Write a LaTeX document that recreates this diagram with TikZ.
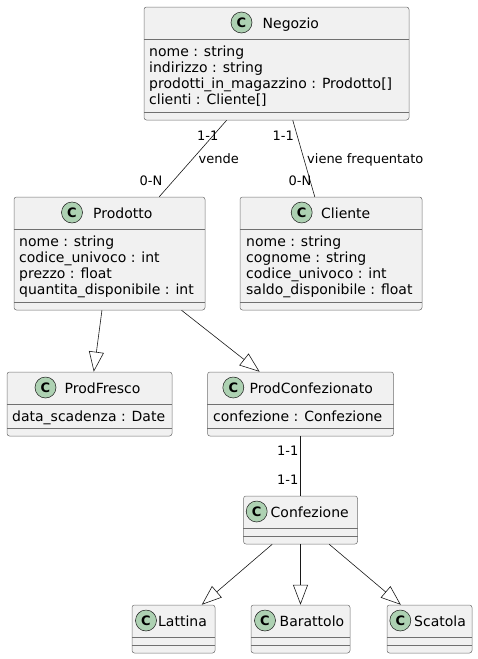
\documentclass[tikz,border=0pt]{standalone}
\usepackage{fontspec}
\setmainfont{DejaVu Sans}
\usepackage{tikz}
\usetikzlibrary{arrows.meta}
\usepackage{xcolor}
\definecolor{umlfill}{HTML}{F1F1F1}
\definecolor{umlline}{HTML}{181818}
\definecolor{umlbox}{HTML}{707070}
\definecolor{umlcirc}{HTML}{ADD1B2}

\tikzset{
  classbox/.style={draw=umlbox, fill=umlfill, line width=0.5pt, rounded corners=2.5pt, inner sep=0pt},
  classmark/.style={circle, draw=umlline, fill=umlcirc, line width=0.5pt, minimum size=21pt, inner sep=0pt, font=\fontsize{13}{13}\selectfont\bfseries},
  classname/.style={anchor=base west, inner sep=0pt, font=\fontsize{14}{16.3}\selectfont},
  attr/.style={anchor=base west, inner sep=0pt, font=\fontsize{14}{16.3}\selectfont},
  edgelabel/.style={anchor=base west, inner sep=0pt, font=\fontsize{13}{15.6}\selectfont},
  sepline/.style={draw=umlbox, line width=0.5pt},
  assoc/.style={draw=umlline, line width=0.6pt},
  inherit/.style={assoc, -{Triangle[open,length=20pt,width=15pt]}},
}

\begin{document}
\begin{tikzpicture}[x=1pt,y=-1pt]
			\useasboundingbox (0,0) rectangle (477,659);
			% class boxes
			\node[classbox, minimum width=265pt, minimum height=113pt] (negozio) at (276.5,63.5) {};
			\node[classbox, minimum width=191pt, minimum height=113pt] (prodotto) at (109.5,253.5) {};
			\node[classbox, minimum width=182pt, minimum height=113pt] (cliente) at (331,253.5) {};
			\node[classbox, minimum width=165pt, minimum height=64pt] (prodfresco) at (89.5,404) {};
			\node[classbox, minimum width=186pt, minimum height=64pt] (prodconf) at (300.5,404) {};
			\node[classbox, minimum width=114pt, minimum height=48pt] (confezione) at (300.5,520) {};
			\node[classbox, minimum width=83pt, minimum height=48pt] (lattina) at (173.5,629) {};
			\node[classbox, minimum width=99pt, minimum height=48pt] (barattolo) at (300.5,629) {};
			\node[classbox, minimum width=85pt, minimum height=48pt] (scatola) at (429.5,629) {};
			% compartments
			\foreach \Cls/\Head/\Sep in {negozio/39/112.5, prodotto/229/302.5, cliente/229/302.5,
					prodfresco/404/428, prodconf/404/428, confezione/528/536,
					lattina/637/645, barattolo/637/645, scatola/637/645} {
				\draw[sepline] (\Cls.west |- 0,\Head) -- (\Cls.east |- 0,\Head);
				\draw[sepline] (\Cls.west |- 0,\Sep) -- (\Cls.east |- 0,\Sep);
			}
			% headers
			\node[classmark] (negozio-c) at (241.5,22.5) {C};
			\node[classname] (negozio-n) at (262.5,28) {Negozio};
			\node[classmark] (prodotto-c) at (72,212.5) {C};
			\node[classname] (prodotto-n) at (93,218) {Prodotto};
			\node[classmark] (cliente-c) at (301.7,212.5) {C};
			\node[classname] (cliente-n) at (321,218) {Cliente};
			\node[classmark] (prodfresco-c) at (45.5,387.5) {C};
			\node[classname] (prodfresco-n) at (64.5,393) {ProdFresco};
			\node[classmark] (prodconf-c) at (233.3,387.5) {C};
			\node[classname] (prodconf-n) at (249.5,393) {ProdConfezionato};
			\node[classmark] (confezione-c) at (256.7,511.5) {C};
			\node[classname] (confezione-n) at (270.5,517) {Confezione};
			\node[classmark] (lattina-c) at (146,620.5) {C};
			\node[classname] (lattina-n) at (158,626) {Lattina};
			\node[classmark] (barattolo-c) at (265,620.5) {C};
			\node[classname] (barattolo-n) at (279.5,626) {Barattolo};
			\node[classmark] (scatola-c) at (400.3,620.5) {C};
			\node[classname] (scatola-n) at (414,626) {Scatola};
			% attributes
			\foreach \Txt [count=\i] in {nome : string, indirizzo : string,
					prodotti\_in\_magazzino : Prodotto[], clienti : Cliente[]}
				\node[attr] (negozio-\i) at (149,{56+16.3*(\i-1)}) {\Txt};
			\foreach \Txt [count=\i] in {nome : string, codice\_univoco : int,
					prezzo : float, quantita\_disponibile : int}
				\node[attr] (prodotto-\i) at (19,{246+16.3*(\i-1)}) {\Txt};
			\foreach \Txt [count=\i] in {nome : string, cognome : string,
					codice\_univoco : int, saldo\_disponibile : float}
				\node[attr] (cliente-\i) at (246,{246+16.3*(\i-1)}) {\Txt};
			\node[attr] (prodfresco-1) at (12,421) {data\_scadenza : Date};
			\node[attr] (prodconf-1) at (213,421) {confezione : Confezione};
			% connectors
			\draw[assoc] (negozio) -- (prodotto);
			\draw[assoc] (negozio) -- (cliente);
			\draw[inherit] (prodotto) -- (prodfresco);
			\draw[inherit] (prodotto) -- (prodconf);
			\draw[assoc] (prodconf) -- (confezione);
			\foreach \Sub in {lattina, barattolo, scatola}
				\draw[inherit] (confezione) -- (\Sub);
			% labels
			\node[edgelabel] (vende-a) at (197,140) {1-1};
			\node[edgelabel] (vende-l) at (198.5,163) {vende};
			\node[edgelabel] (vende-b) at (139.5,185) {0-N};
			\node[edgelabel] (freq-a) at (272.5,140) {1-1};
			\node[edgelabel] (freq-l) at (307,163) {viene frequentato};
			\node[edgelabel] (freq-b) at (288.5,185) {0-N};
			\node[edgelabel] (conf-a) at (277,455) {1-1};
			\node[edgelabel] (conf-b) at (277,484.5) {1-1};
		\end{tikzpicture}
\end{document}
